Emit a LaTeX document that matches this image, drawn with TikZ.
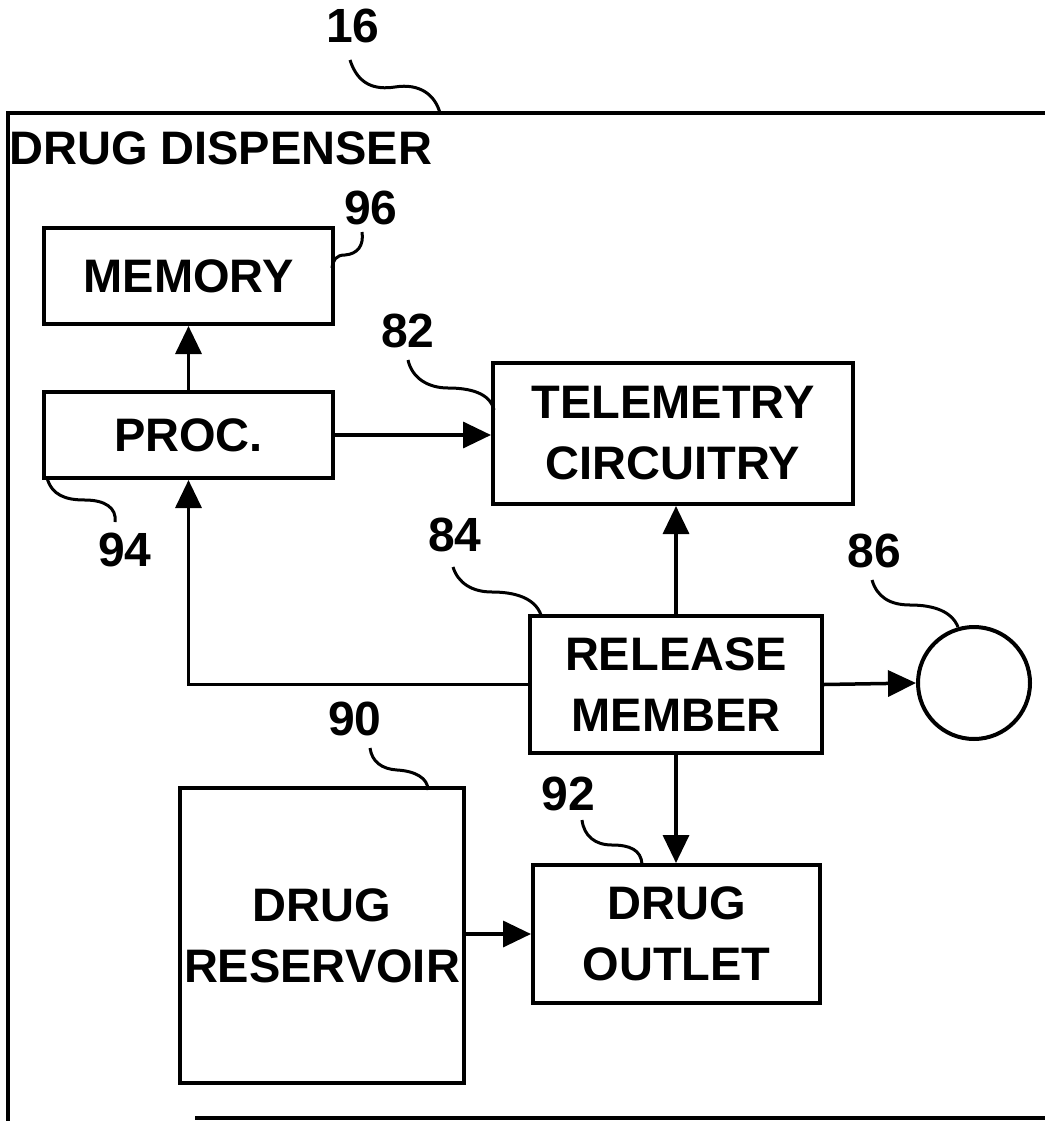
\documentclass[tikz,border=0pt]{standalone}
\usepackage{fontspec}
\setmainfont{Liberation Sans}
\usetikzlibrary{arrows.meta}
\begin{document}
\begin{tikzpicture}[x=1pt,y=-1pt,
  box/.style={draw,line width=4pt,rectangle,inner sep=0pt,align=center,
    font=\fontsize{47}{61}\selectfont\bfseries},
  lbl/.style={inner sep=0pt,font=\fontsize{48}{58}\selectfont\bfseries},
  conn/.style={line width=3.5pt,-{Triangle[length=28pt,width=26pt]}},
  lead/.style={line width=3pt},
  frame/.style={line width=4.5pt}]
\useasboundingbox (0,0) rectangle (1044,1121);

% outer frame
\coordinate (fTL) at (8,113);
\coordinate (fTR) at (1050,113);
\coordinate (fBL) at (8,1125);
\coordinate (fB1) at (195,1118);
\coordinate (fB2) at (1050,1118);
\draw[frame] (fBL) -- (fTL) -- (fTR);
\draw[frame] (fB1) -- (fB2);
\node[lbl,anchor=west,font=\fontsize{47}{58}\selectfont\bfseries] (title) at (9,148) {DRUG DISPENSER};

% boxes
\node[box,minimum width=289pt,minimum height=96pt] (mem) at (188.5,276) {MEMORY};
\node[box,minimum width=289pt,minimum height=86pt] (proc) at (188.5,435) {PROC.};
\node[box,minimum width=360pt,minimum height=141pt] (tele) at (673,433.5) {TELEMETRY\\CIRCUITRY};
\node[box,minimum width=292pt,minimum height=137pt] (rel) at (676,684.5) {RELEASE\\MEMBER};
\node[box,minimum width=284pt,minimum height=295pt] (res) at (322,935.5) {DRUG\\RESERVOIR};
\node[box,minimum width=287pt,minimum height=138pt] (out) at (676.5,934) {DRUG\\OUTLET};
\node[draw,line width=4pt,circle,minimum size=112pt,inner sep=0pt] (circ) at (974,683) {};

% connectors
\draw[conn] (proc.north) -- (mem.south);
\draw[conn] (proc.east) -- (proc.east -| tele.west);
\draw[conn] (rel.north) -- (rel.north |- tele.south);
\draw[conn] (rel.west) -| (proc.south);
\draw[conn] (rel.east) -- (circ.west);
\draw[conn] (rel.south) -- (rel.south |- out.north);
\draw[conn] (res.east |- out.west) -- (out.west);

% reference labels
\node[lbl] (l16) at (353,26) {16};
\node[lbl] (l96) at (371,208) {96};
\node[lbl] (l82) at (408,331) {82};
\node[lbl] (l94) at (125,550) {94};
\node[lbl] (l84) at (455,535) {84};
\node[lbl] (l86) at (874,551) {86};
\node[lbl] (l90) at (355,719) {90};
\node[lbl] (l92) at (568,794) {92};

% leader lines
\draw[lead] (350,60) .. controls (358,85) and (375,90) .. (395,87) .. controls (420,83) and (435,95) .. (440,113);
\draw[lead] (362,232) .. controls (364,245) and (358,254) .. (345,255) .. controls (336,255) and (333,260) .. (332,268);
\draw[lead] (408,360) .. controls (412,378) and (428,388) .. (448,388) .. controls (470,388) and (490,393) .. (494,410);
\draw[lead] (47,478) .. controls (52,495) and (65,500) .. (85,500) .. controls (105,500) and (117,508) .. (115,522);
\draw[lead] (453,567) .. controls (458,583) and (472,592) .. (492,592) .. controls (515,592) and (535,598) .. (541,615);
\draw[lead] (872,580) .. controls (877,597) and (890,605) .. (910,605) .. controls (935,605) and (952,612) .. (958,627);
\draw[lead] (370,748) .. controls (372,762) and (382,769) .. (397,770) .. controls (415,771) and (428,778) .. (428,790);
\draw[lead] (582,820) .. controls (584,836) and (595,845) .. (612,845) .. controls (630,845) and (641,850) .. (642,864);
\end{tikzpicture}
\end{document}
